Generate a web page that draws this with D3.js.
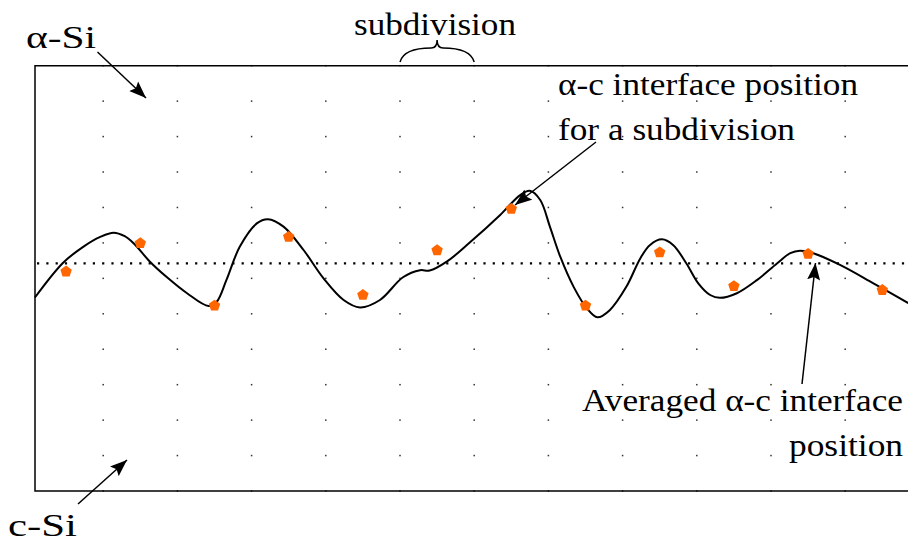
<!DOCTYPE html>
<html>
<head>
<meta charset="utf-8">
<script src="https://cdn.jsdelivr.net/npm/d3@7"></script>
<style>
  body { margin: 0; background: #fff; }
</style>
</head>
<body>
<div id="chart"></div>
<script>
// x: subdivision units, y: depth in grid rows (0 = top of frame)
var subdivisions = d3.range(12)
var gridCols = d3.range(1, 12)
var gridRows = d3.range(0, 13)

// interface line (traced)
var curveX = [0.08, 0.46, 0.73, 0.96, 1.14, 1.29, 1.41, 1.63, 1.86, 2.13, 2.42, 2.53, 2.66, 2.84,
  3.07, 3.22, 3.43, 3.70, 3.97, 4.24, 4.46, 4.73, 5.04, 5.27, 5.40, 5.63, 5.94, 6.35, 6.62, 6.75,
  6.89, 7.02, 7.16, 7.34, 7.52, 7.66, 7.83, 8.05, 8.24, 8.37, 8.53, 8.68, 8.86, 9.02, 9.18, 9.31,
  9.54, 9.81, 10.08, 10.26, 10.39, 10.57, 10.93, 11.38, 11.85]
var curveDepth = [6.54, 5.56, 5.11, 4.83, 4.71, 4.81, 5.01, 5.53, 5.97, 6.42, 6.78, 6.66, 6.05, 5.11,
  4.45, 4.33, 4.54, 5.20, 6.00, 6.61, 6.82, 6.61, 5.97, 5.77, 5.78, 5.53, 4.99, 4.21, 3.65, 3.53,
  3.79, 4.54, 5.39, 6.24, 6.85, 7.10, 6.89, 6.24, 5.43, 5.06, 4.90, 5.06, 5.58, 6.14, 6.47, 6.55,
  6.42, 6.05, 5.58, 5.29, 5.22, 5.29, 5.62, 6.14, 6.70]

// interface position per subdivision
var subDepth = [5.81, 5.01, 6.77, 4.83, 6.47, 5.21, 4.04, 6.77, 5.27, 6.22, 5.31, 6.33]
var avgDepth = 5.58

var width = 908, height = 542
var frameLeft = 35

var svg = d3.select('#chart')
  .append('svg')
  .attr('width', width)
  .attr('height', height)

var x = d3.scaleLinear().domain([0, 12]).range([29, 919.4])
var y = d3.scaleLinear().domain([0, 12]).range([65.7, 491])

var defs = svg.append('defs')
defs.append('marker')
  .attr('id', 'head')
  .attr('markerUnits', 'userSpaceOnUse')
  .attr('viewBox', '0 -7 18 14')
  .attr('refX', 17)
  .attr('refY', 0)
  .attr('markerWidth', 18)
  .attr('markerHeight', 14)
  .attr('orient', 'auto')
  .append('path')
  .attr('d', 'M0,-6.5L17,0L0,6.5L3,0Z')
  .attr('fill', '#000')

/** grid dots */
var dots = []
gridCols.forEach(c => gridRows.forEach(r => dots.push([c, r])))
svg.append('g')
  .selectAll('rect')
  .data(dots)
  .enter()
  .append('rect')
  .attr('x', d => x(d[0]) - 0.75)
  .attr('y', d => y(d[1]) - 0.75)
  .attr('width', 1.5)
  .attr('height', 1.5)
  .attr('fill', '#333')

/** frame, open on the right */
svg.append('path')
  .attr('d', 'M' + (width + 5) + ',' + y(0) + 'H' + frameLeft + 'V' + y(12) + 'H' + (width + 5))
  .attr('fill', 'none')
  .attr('stroke', '#000')
  .attr('stroke-width', 1.5)

/** averaged interface */
svg.append('line')
  .attr('x1', frameLeft + 2)
  .attr('x2', width)
  .attr('y1', y(avgDepth))
  .attr('y2', y(avgDepth))
  .attr('stroke', '#000')
  .attr('stroke-width', 2.2)
  .attr('stroke-dasharray', '2.2 7.1')

/** interface line */
var line = d3.line()
  .x(d => x(d[0]))
  .y(d => y(d[1]))
  .curve(d3.curveCatmullRom.alpha(0.5))

svg.append('path')
  .datum(curveX.map((v, i) => [v, curveDepth[i]]))
  .attr('d', line)
  .attr('fill', 'none')
  .attr('stroke', '#000')
  .attr('stroke-width', 2)

/** pentagons */
function pentagon(r) {
  var pts = d3.range(5).map(k => {
    var a = -Math.PI / 2 + k * 2 * Math.PI / 5
    return [r * Math.cos(a), r * Math.sin(a)]
  })
  return 'M' + pts.join('L') + 'Z'
}
svg.append('g')
  .selectAll('path')
  .data(subdivisions)
  .enter()
  .append('path')
  .attr('transform', d => 'translate(' + x(d + 0.5) + ',' + y(subDepth[d]) + ')')
  .attr('d', pentagon(6))
  .attr('fill', '#ff6600')

/** brace over one subdivision */
var bl = x(5), br = x(6), bm = (bl + br) / 2
var bBot = 62, bTop = 40
svg.append('path')
  .attr('d', 'M' + bl + ',' + bBot + 'C' + (bl + 3) + ',' + (bBot - 11) + ' ' + (bl + 17) + ',' + (bBot - 14) +
    ' ' + (bm - 6) + ',' + (bBot - 14) + 'C' + (bm - 2) + ',' + (bBot - 14) + ' ' + bm + ',' + (bBot - 17) +
    ' ' + bm + ',' + bTop +
    'M' + br + ',' + bBot + 'C' + (br - 3) + ',' + (bBot - 11) + ' ' + (br - 17) + ',' + (bBot - 14) +
    ' ' + (bm + 6) + ',' + (bBot - 14) + 'C' + (bm + 2) + ',' + (bBot - 14) + ' ' + bm + ',' + (bBot - 17) +
    ' ' + bm + ',' + bTop)
  .attr('fill', 'none')
  .attr('stroke', '#000')
  .attr('stroke-width', 1.5)

/** labels (w = width) */
var labels = [
  { t: 'α-Si', x: 26, y: 48, w: 70 },
  { t: 'subdivision', x: 354, y: 35, w: 162 },
  { t: 'α-c interface position', x: 558, y: 95, w: 300 },
  { t: 'for a subdivision', x: 558, y: 140, w: 237 },
  { t: 'Averaged α-c interface', x: 582, y: 411, w: 321 },
  { t: 'position', x: 789, y: 456, w: 114 },
  { t: 'c-Si', x: 8, y: 536, w: 69 }
]
svg.append('g')
  .selectAll('text')
  .data(labels)
  .enter()
  .append('text')
  .attr('x', d => d.x)
  .attr('y', d => d.y)
  .attr('textLength', d => d.w)
  .attr('lengthAdjust', 'spacingAndGlyphs')
  .style('font-family', '"Liberation Serif"')
  .style('font-size', '32px')
  .attr('fill', '#000')
  .text(d => d.t)

/** arrows */
var arrows = [
  [97.5, 52, 146, 98],
  [78, 504, 127, 460],
  [596, 142, 515, 205],
  [802, 384, 815.5, 263]
]
svg.append('g')
  .selectAll('line')
  .data(arrows)
  .enter()
  .append('line')
  .attr('x1', d => d[0])
  .attr('y1', d => d[1])
  .attr('x2', d => d[2])
  .attr('y2', d => d[3])
  .attr('stroke', '#000')
  .attr('stroke-width', 1.5)
  .attr('marker-end', 'url(#head)')
</script>
</body>
</html>
